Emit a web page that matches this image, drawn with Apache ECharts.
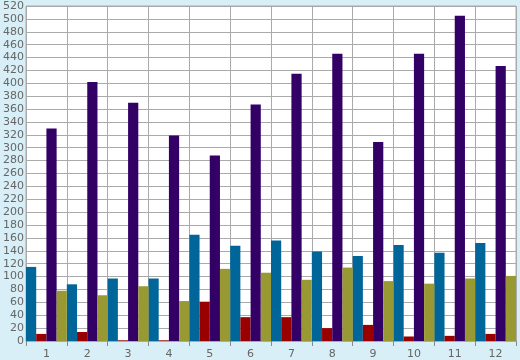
<!DOCTYPE html>
<html><head><meta charset="utf-8">
<script src="https://cdn.jsdelivr.net/npm/echarts@6/dist/echarts.min.js"></script>
<style>html,body{margin:0;padding:0;background:#d8eff7;}#c{width:520px;height:360px;}</style>
</head><body><div id="c"></div>
<script>
var categories = ['1','2','3','4','5','6','7','8','9','10','11','12'];
var tealValues   = [115, 88, 97, 97, 165, 148, 156, 139, 132, 149, 137, 152];
var redValues    = [11, 14, 1, 1, 61, 37, 37, 20, 25, 7, 8, 11];
var purpleValues = [330, 402, 370, 319, 288, 367, 415, 446, 309, 446, 505, 427];
var oliveValues  = [78, 71, 85, 62, 112, 106, 95, 114, 93, 89, 97, 101];

var chart = echarts.init(document.getElementById('c'), null, {renderer:'canvas'});
var font = 'DejaVu Sans';
function bar(name, data, color){
  return {name:name, type:'bar', data:data, barGap:'0%', barCategoryGap:'0%',
    itemStyle:{color:color}, animation:false};
}
chart.setOption({
  backgroundColor:'#d8eff7',
  animation:false,
  grid:{left:26, right:4, top:6, bottom:19, show:true, backgroundColor:'#ffffff', borderColor:'#aaaaaa', borderWidth:1, containLabel:false},
  xAxis:{type:'category', data:categories, boundaryGap:true,
    axisLine:{show:true, lineStyle:{color:'#aaaaaa'}},
    axisTick:{show:true, length:5, lineStyle:{color:'#888888'}},
    axisLabel:{color:'#666666', fontFamily:font, fontSize:11, margin:8},
    splitLine:{show:true, lineStyle:{color:'#aaaaaa', width:1}}},
  yAxis:{type:'value', min:0, max:520, interval:20,
    axisLine:{show:false}, axisTick:{show:false},
    axisLabel:{color:'#666666', fontFamily:font, fontSize:11, margin:2},
    splitLine:{show:true, lineStyle:{color:'#aaaaaa', width:1}}},
  series:[
    bar('A', tealValues, '#006699'),
    bar('B', redValues, '#990000'),
    bar('C', purpleValues, '#330066'),
    bar('D', oliveValues, '#999933')
  ]
});
</script></body></html>
